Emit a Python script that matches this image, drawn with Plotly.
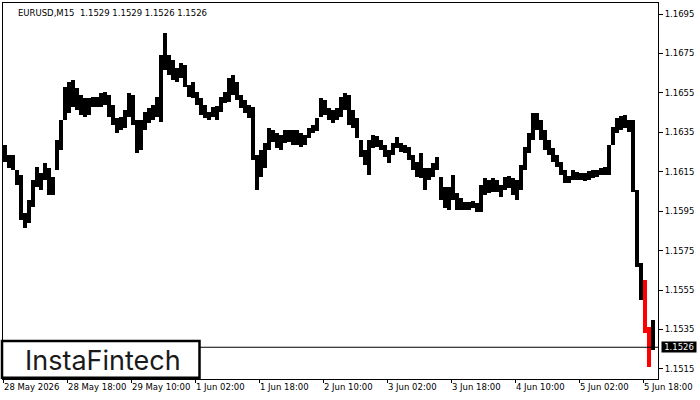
import pandas as pd
import plotly.graph_objects as go

# ---- data (hourly high/low) ----
symbol_title = "EURUSD,M15  1.1529 1.1529 1.1526 1.1526"
first_hour = "2026-05-28 02:00"
last_hour = "2026-06-05 20:00"
last_close = 1.1526
signal_start = "2026-06-05 18:00"
signal_end = "2026-06-05 19:00"

highs = [
    1.16286, 1.16235, 1.16235, 1.16159, 1.16134, 1.15941, 1.16007, 1.16108, 1.16174, 1.16144,
    1.16195, 1.16169, 1.16124, 1.16311, 1.16413, 1.16580, 1.16605, 1.16615, 1.16575, 1.16539,
    1.16524, 1.16524, 1.16529, 1.16529, 1.16549, 1.16555, 1.16539, 1.16489, 1.16423, 1.16428,
    1.16463, 1.16549, 1.16539, 1.16413, 1.16413, 1.16453, 1.16473, 1.16489, 1.16529, 1.16742,
    1.16854, 1.16742, 1.16717, 1.16676, 1.16702, 1.16691, 1.16590, 1.16605, 1.16555, 1.16524,
    1.16489, 1.16453, 1.16478, 1.16484, 1.16529, 1.16555, 1.16626, 1.16641, 1.16605, 1.16539,
    1.16514, 1.16489, 1.16478, 1.16235, 1.16260, 1.16296, 1.16372, 1.16362, 1.16347, 1.16337,
    1.16362, 1.16362, 1.16362, 1.16362, 1.16347, 1.16337, 1.16372, 1.16387, 1.16423, 1.16524,
    1.16514, 1.16473, 1.16463, 1.16473, 1.16529, 1.16549, 1.16539, 1.16463, 1.16423, 1.16311,
    1.16260, 1.16311, 1.16337, 1.16331, 1.16311, 1.16286, 1.16260, 1.16296, 1.16326, 1.16296,
    1.16286, 1.16276, 1.16235, 1.16200, 1.16245, 1.16169, 1.16169, 1.16195, 1.16225, 1.16124,
    1.16073, 1.16073, 1.16134, 1.16042, 1.16017, 1.15997, 1.15997, 1.16002, 1.15992, 1.16083,
    1.16119, 1.16108, 1.16119, 1.16108, 1.16083, 1.16124, 1.16129, 1.16119, 1.16108, 1.16184,
    1.16276, 1.16347, 1.16448, 1.16448, 1.16413, 1.16362, 1.16311, 1.16271, 1.16235, 1.16200,
    1.16159, 1.16129, 1.16159, 1.16149, 1.16144, 1.16144, 1.16154, 1.16159, 1.16159, 1.16169,
    1.16174, 1.16286, 1.16377, 1.16423, 1.16433, 1.16438, 1.16413, 1.16413, 1.16058, 1.15688,
    1.15601, 1.15363, 1.15399,
]
lows = [
    1.16200, 1.16169, 1.16159, 1.16083, 1.15906, 1.15865, 1.15890, 1.15971, 1.16073, 1.16058,
    1.16108, 1.16032, 1.16032, 1.16159, 1.16260, 1.16413, 1.16448, 1.16478, 1.16463, 1.16438,
    1.16428, 1.16438, 1.16478, 1.16478, 1.16478, 1.16489, 1.16428, 1.16387, 1.16347, 1.16362,
    1.16372, 1.16428, 1.16387, 1.16245, 1.16260, 1.16362, 1.16397, 1.16413, 1.16428, 1.16402,
    1.16666, 1.16641, 1.16615, 1.16605, 1.16626, 1.16580, 1.16529, 1.16524, 1.16489, 1.16438,
    1.16423, 1.16413, 1.16428, 1.16413, 1.16453, 1.16499, 1.16504, 1.16539, 1.16514, 1.16473,
    1.16448, 1.16423, 1.16210, 1.16058, 1.16124, 1.16169, 1.16260, 1.16301, 1.16271, 1.16260,
    1.16296, 1.16301, 1.16286, 1.16286, 1.16276, 1.16286, 1.16321, 1.16347, 1.16357, 1.16428,
    1.16438, 1.16413, 1.16397, 1.16413, 1.16428, 1.16463, 1.16387, 1.16372, 1.16321, 1.16225,
    1.16184, 1.16134, 1.16271, 1.16276, 1.16260, 1.16225, 1.16195, 1.16235, 1.16271, 1.16250,
    1.16245, 1.16210, 1.16159, 1.16124, 1.16119, 1.16058, 1.16108, 1.16124, 1.16159, 1.16007,
    1.15966, 1.15956, 1.16007, 1.15956, 1.15956, 1.15956, 1.15956, 1.15966, 1.15946, 1.15946,
    1.16032, 1.16042, 1.16048, 1.16048, 1.16022, 1.16058, 1.16068, 1.16032, 1.16007, 1.16058,
    1.16159, 1.16245, 1.16311, 1.16362, 1.16311, 1.16260, 1.16235, 1.16200, 1.16174, 1.16134,
    1.16093, 1.16093, 1.16108, 1.16108, 1.16108, 1.16103, 1.16108, 1.16119, 1.16124, 1.16134,
    1.16134, 1.16134, 1.16286, 1.16347, 1.16362, 1.16372, 1.16352, 1.16048, 1.15667, 1.15500,
    1.15333, 1.15160, 1.15246,
]

tick_times = [
    "2026-05-28 02:00", "2026-05-28 18:00", "2026-05-29 10:00", "2026-06-01 02:00",
    "2026-06-01 18:00", "2026-06-02 10:00", "2026-06-03 02:00", "2026-06-03 18:00",
    "2026-06-04 10:00", "2026-06-05 02:00", "2026-06-05 18:00",
]
tick_labels = [
    "28 May 2026", "28 May 18:00", "29 May 10:00", "1 Jun 02:00", "1 Jun 18:00",
    "2 Jun 10:00", "3 Jun 02:00", "3 Jun 18:00", "4 Jun 10:00", "5 Jun 02:00", "5 Jun 18:00",
]
price_ticks = [1.1515, 1.1535, 1.1555, 1.1575, 1.1595, 1.1615, 1.1635, 1.1655, 1.1675, 1.1695]

# ---- build ----
times = pd.date_range(first_hour, last_hour, freq="h")
times = times[times.dayofweek < 5]
centers = times + pd.Timedelta(minutes=30)
s0, s1 = pd.Timestamp(signal_start), pd.Timestamp(signal_end)
colors = ["#ff0000" if s0 <= t <= s1 else "#000000" for t in times]

FONT = "DejaVu Sans"
FS = 8.5

fig = go.Figure()
fig.add_trace(go.Bar(
    x=centers,
    y=[h - l for h, l in zip(highs, lows)],
    base=lows,
    width=3600000,
    marker=dict(color=colors, line=dict(width=0)),
    hoverinfo="skip",
))

fig.add_shape(type="line", xref="paper", yref="y", x0=0, x1=1,
              y0=last_close, y1=last_close, line=dict(color="black", width=1))

# logo box
fig.add_shape(type="rect", xref="paper", yref="paper",
              x0=-0.0015, x1=0.3, y0=0.003, y1=0.101,
              fillcolor="white", line=dict(color="black", width=2.5), layer="above")
fig.add_annotation(xref="paper", yref="paper", x=0.152, y=0.05, text="InstaFintech",
                   showarrow=False, font=dict(family="Inter", size=27, color="#1a1a1a"),
                   xanchor="center", yanchor="middle")

# title
fig.add_annotation(xref="paper", yref="paper", x=0, y=1, xshift=13, yshift=-3,
                   text=symbol_title, showarrow=False, xanchor="left", yanchor="top",
                   font=dict(family=FONT, size=FS, color="black"))

# last price label
fig.add_annotation(xref="paper", yref="y", x=1, y=last_close, xshift=3,
                   text=f"{last_close:.4f}", showarrow=False, xanchor="left", yanchor="middle",
                   bgcolor="black", font=dict(family=FONT, size=FS, color="white"),
                   width=34, height=10, borderpad=0)

start = pd.Timestamp(first_hour)
end = pd.Timestamp(last_hour) + pd.Timedelta(minutes=105)

fig.update_layout(
    width=700, height=400,
    margin=dict(l=3, r=42, t=3, b=21, autoexpand=False),
    paper_bgcolor="white", plot_bgcolor="white",
    showlegend=False,
    font=dict(family=FONT, size=FS, color="black"),
    bargap=0,
)
fig.update_xaxes(
    type="date",
    range=[start, end],
    rangebreaks=[dict(bounds=["sat", "mon"])],
    tickvals=[pd.Timestamp(t) for t in tick_times],
    ticktext=tick_labels,
    tickangle=0,
    ticklabelposition="outside right",
    ticks="outside", ticklen=3, tickcolor="black",
    showline=True, linecolor="black", linewidth=1, mirror=True,
    showgrid=False, zeroline=False, automargin=False,
    tickfont=dict(family=FONT, size=FS, color="black"),
)
fig.update_yaxes(
    side="right",
    range=[1.15099, 1.17006],
    tickvals=price_ticks,
    ticktext=[f"{v:.4f}" for v in price_ticks],
    ticks="outside", ticklen=4, tickcolor="black",
    showline=True, linecolor="black", linewidth=1, mirror=True,
    showgrid=False, zeroline=False, automargin=False,
    tickfont=dict(family=FONT, size=FS, color="black"),
)

fig.write_html(
    "out.html",
    config={"displayModeBar": False},
    post_script="document.body.style.margin='0';document.body.style.overflow='hidden';",
)
